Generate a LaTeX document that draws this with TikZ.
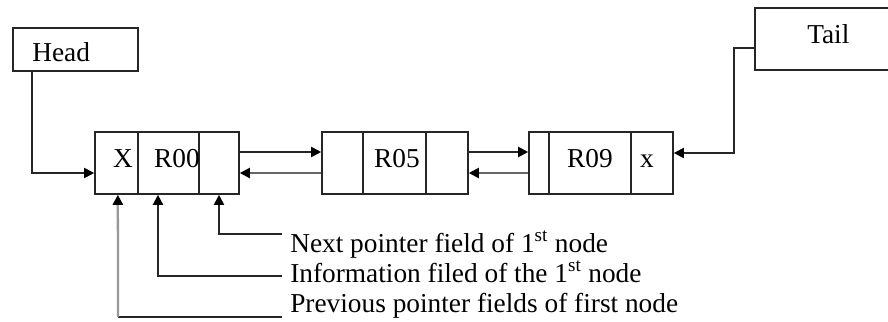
\documentclass[tikz,border=0pt]{standalone}
\usepackage{fontspec}
\setmainfont{Liberation Serif}
\usetikzlibrary{arrows.meta,fit}
\begin{document}
\begin{tikzpicture}[x=0.75pt,y=-0.75pt,
  cell/.style={draw=black!85,line width=1.2pt,inner sep=0pt},
  lbl/.style={anchor=base,inner sep=0pt,font=\fontsize{20.5}{24}\selectfont},
  ltxt/.style={anchor=base west,inner sep=0pt,font=\fontsize{20.5}{24}\selectfont},
  conn/.style={draw=black!85,line width=1.4pt},
  arr/.style={conn,-{Triangle[length=7.5pt,width=7.5pt,color=black]}},
  backarr/.style={arr,draw=black!60,line width=1.6pt},
  grayarr/.style={arr,draw=black!40,line width=1.7pt},
]
\useasboundingbox (0,0) rectangle (888,321);
\clip (0,0) rectangle (888,321);

% Head and Tail boxes
\node[cell,fit={(13,28) (138,71)}] (head) {};
\node[ltxt] (headt) at (32,62) {Head};
\node[cell,fit={(755,8) (894,70)}] (tail) {};
\node[ltxt] (tailt) at (807,44) {Tail};

% node 1
\node[cell,fit={(95,132) (138,194)}] (n1p) {};
\node[cell,fit={(138,132) (199,194)}] (n1i) {};
\node[cell,fit={(199,132) (239,194)}] (n1n) {};
\node[lbl] (t1p) at (123,167) {X};
\node[lbl] (t1i) at (177,167) {R00};
% node 2
\node[cell,fit={(322,132) (363,194)}] (n2p) {};
\node[cell,fit={(363,132) (426,194)}] (n2i) {};
\node[cell,fit={(426,132) (468,194)}] (n2n) {};
\node[lbl] (t2i) at (397,167) {R05};
% node 3
\node[cell,fit={(529,132) (549,194)}] (n3p) {};
\node[cell,fit={(549,132) (631,194)}] (n3i) {};
\node[cell,fit={(631,132) (673,194)}] (n3n) {};
\node[lbl] (t3i) at (590,167) {R09};
\node[lbl] (t3n) at (647,167) {x};

% links between nodes
\draw[arr] ([yshift=8.25pt]n1n.east) -- ([yshift=8.25pt]n2p.west);
\draw[backarr] ([yshift=-7.5pt]n2p.west) -- ([yshift=-7.5pt]n1n.east);
\draw[arr] ([yshift=8.25pt]n2n.east) -- ([yshift=8.25pt]n3p.west);
\draw[backarr] ([yshift=-7.5pt]n3p.west) -- ([yshift=-7.5pt]n2n.east);

% head and tail pointers
\draw[arr] ([xshift=15pt]head.south west) |- ([yshift=-7.5pt]n1p.west);
\draw[arr] ([yshift=-6.75pt]tail.west) -- ++(-20,0) |- ([yshift=7.5pt]n3n.east);

% annotation texts
\node[ltxt] (anext) at (290,252) {Next pointer field of 1\textsuperscript{st} node};
\node[ltxt] (ainfo) at (290,282) {Information filed of the 1\textsuperscript{st} node};
\node[ltxt] (aprev) at (290,312) {Previous pointer fields of first node};

\coordinate (cnext) at (282,234);
\coordinate (cinfo) at (282,276);
\coordinate (cprev) at (282,317);
\coordinate (cprevcorner) at (118,317);

\draw[arr] (cnext) -| (n1n.south);
\draw[arr] (cinfo) -| ([xshift=-7.9pt]n1i.south);
\draw[conn] (cprev) -- (cprevcorner);
\draw[grayarr] (cprevcorner) -- ([xshift=1pt]n1p.south);
\end{tikzpicture}
\end{document}
